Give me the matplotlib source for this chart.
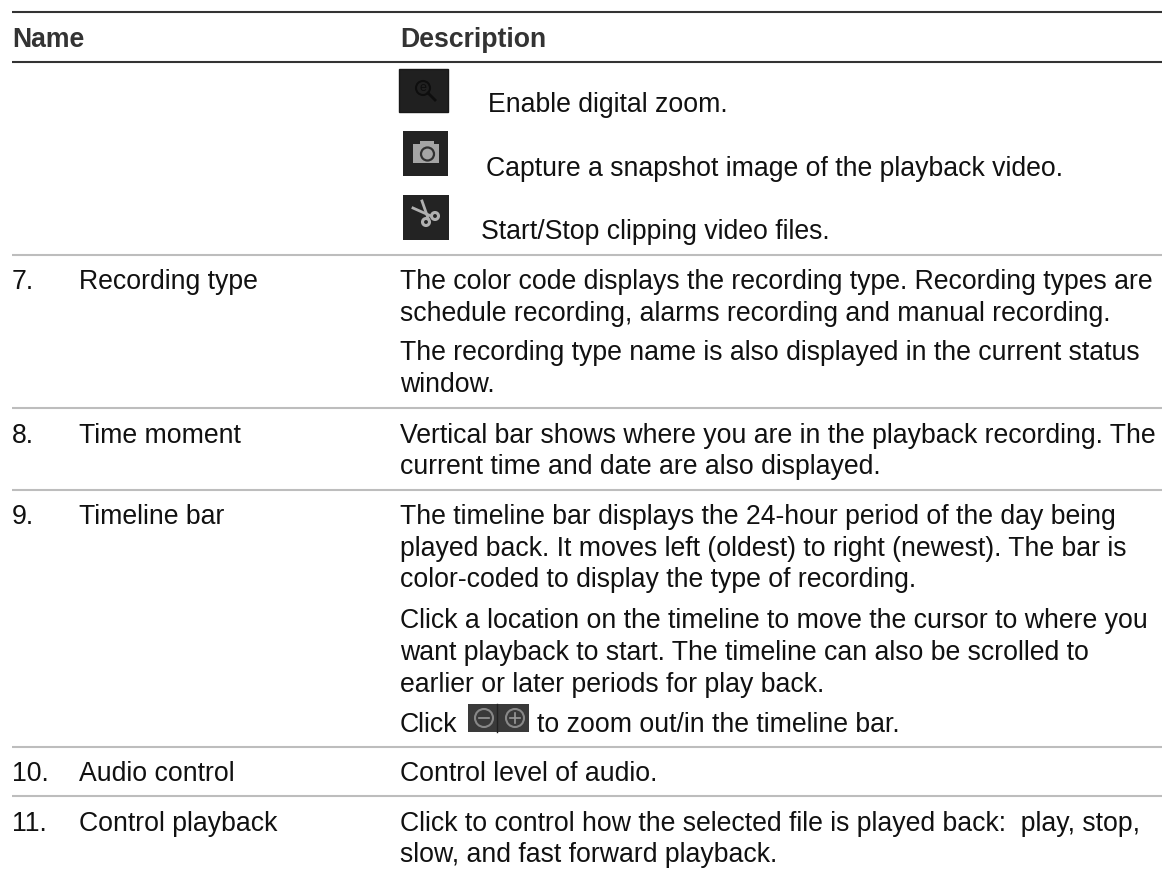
import matplotlib
matplotlib.use("Agg")
import matplotlib.pyplot as plt
from matplotlib.patches import Rectangle, Circle

plt.rcParams['font.family'] = ['Liberation Sans', 'DejaVu Sans']

W, H = 1162, 872
FS = 19.2
TXT = '#111111'

headers = ["Name", "Description"]
numbers = ["7.", "8.", "9.", "10.", "11."]
names = ["Recording type", "Time moment", "Timeline bar", "Audio control", "Control playback"]
name_baselines = [289, 443, 524, 781, 831]

desc_lines = [
    (487.5, 112, "Enable digital zoom."),
    (486, 176, "Capture a snapshot image of the playback video."),
    (481, 239, "Start/Stop clipping video files."),
    (400, 289, "The color code displays the recording type. Recording types are"),
    (400, 321, "schedule recording, alarms recording and manual recording."),
    (400, 360, "The recording type name is also displayed in the current status"),
    (400, 392, "window."),
    (400, 443, "Vertical bar shows where you are in the playback recording. The"),
    (400, 474, "current time and date are also displayed."),
    (400, 524, "The timeline bar displays the 24-hour period of the day being"),
    (400, 556, "played back. It moves left (oldest) to right (newest). The bar is"),
    (400, 587, "color-coded to display the type of recording."),
    (400, 628, "Click a location on the timeline to move the cursor to where you"),
    (400, 660, "want playback to start. The timeline can also be scrolled to"),
    (400, 692, "earlier or later periods for play back."),
    (400, 732, "Click"),
    (537, 732, "to zoom out/in the timeline bar."),
    (400, 781, "Control level of audio."),
    (400, 831, "Click to control how the selected file is played back:  play, stop,"),
    (400, 862, "slow, and fast forward playback."),
]

heavy_rules = [12, 62]
light_rules = [255, 408, 490, 747, 796]

fig = plt.figure(figsize=(W / 100, H / 100), dpi=100, facecolor='white')
ax = fig.add_axes([0, 0, 1, 1])
ax.set_xlim(0, W)
ax.set_ylim(H, 0)
ax.axis('off')

for y in heavy_rules:
    ax.plot([12, W], [y, y], color='#333333', lw=1.5, solid_capstyle='butt')
for y in light_rules:
    ax.plot([12, W], [y, y], color='#bdbdbd', lw=1.5, solid_capstyle='butt')

ax.text(12, 47, headers[0], fontsize=FS, fontweight='bold', color='#333333', va='baseline')
ax.text(400, 47, headers[1], fontsize=FS, fontweight='bold', color='#333333', va='baseline')

for n, name, y in zip(numbers, names, name_baselines):
    ax.text(12, y, n, fontsize=FS, color=TXT, va='baseline')
    ax.text(79, y, name, fontsize=FS, color=TXT, va='baseline')

for x, y, s in desc_lines:
    ax.text(x, y, s, fontsize=FS, color=TXT, va='baseline')


def box(x0, y0, x1, y1, c='#232323', ec='none'):
    ax.add_patch(Rectangle((x0, y0), x1 - x0, y1 - y0, fc=c, ec=ec, zorder=2))


# magnifier icon
box(399, 69, 448, 112, '#202020', '#181818')
ax.add_patch(Circle((423, 88), 7, fc='none', ec='#0e0e0e', lw=1.5, zorder=3))
ax.text(423, 88, "e", fontsize=9, color='#0e0e0e', ha='center', va='center', zorder=3)
ax.plot([428, 435], [93, 100], color='#0e0e0e', lw=2, zorder=3)

# camera icon
box(403, 131, 448, 176)
ax.add_patch(Rectangle((412.5, 144), 26, 19, fc='#a4a4a4', ec='none', zorder=3))
ax.add_patch(Rectangle((420, 141), 14, 4, fc='#a4a4a4', ec='none', zorder=3))
ax.add_patch(Circle((427.5, 154), 6.5, fc='#a4a4a4', ec='#303030', lw=1.6, zorder=4))

# scissors icon
box(403, 195, 449, 240)
ax.add_patch(Circle((426, 222), 3.5, fc='none', ec='#b0b0b0', lw=2.2, zorder=3))
ax.add_patch(Circle((435, 216), 3.5, fc='none', ec='#b0b0b0', lw=2.2, zorder=3))
ax.plot([413, 431], [208, 216], color='#b0b0b0', lw=2, zorder=3)
ax.plot([422, 428], [201, 218], color='#b0b0b0', lw=2, zorder=3)

# zoom out / in icon
zy0, zy1, zm = 704, 732, 718
box(468, zy0, 529, zy1, '#3a3a3a')
ax.plot([497, 497], [zy0, zy1], color='#222222', lw=1, zorder=3)
for cx, plus in ((484, False), (515, True)):
    ax.add_patch(Circle((cx, zm), 9, fc='none', ec='#888888', lw=1.5, zorder=3))
    ax.plot([cx - 5, cx + 5], [zm, zm], color='#999999', lw=1.2, zorder=3)
    if plus:
        ax.plot([cx, cx], [zm - 5, zm + 5], color='#999999', lw=1.2, zorder=3)

fig.savefig('out.png', dpi=100)
